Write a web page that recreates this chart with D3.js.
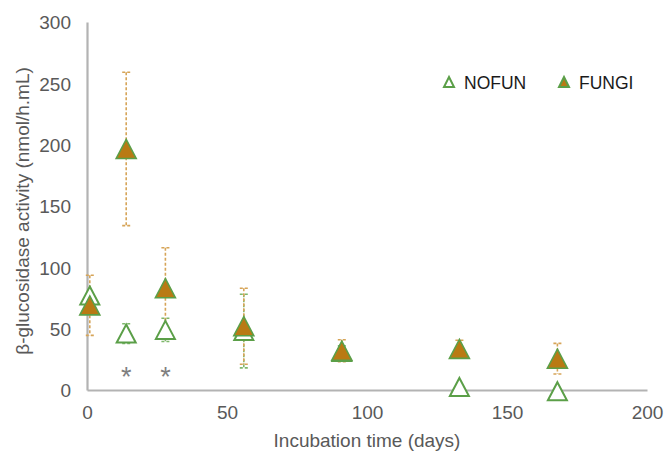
<!DOCTYPE html>
<html>
<head>
<meta charset="utf-8">
<script src="https://cdn.jsdelivr.net/npm/d3@7"></script>
<style>
  body { margin: 0; background: #fff; }
  svg text { font-family: "Liberation Sans", Arial, sans-serif; }
</style>
</head>
<body>
<svg class="chart"></svg>
<script>
// data
const days = [1, 14, 28, 56, 91, 133, 168];
const nofun = [77, 46, 49, 48, 31, 2.5, -1];
const nofunErr = [0, 8, 9.5, 30, 5, 0, 0];
const fungi = [69, 196.5, 83, 52, 32, 33.5, 25.5];
const fungiErr = [24.5, 62.5, 33, 31, 9, 7, 12.5];
const starDays = [14, 28];
const xTicks = [0, 50, 100, 150, 200];
const yTicks = [0, 50, 100, 150, 200, 250, 300];

const width = 667;
const height = 452;
const green = '#5b9f48';
const orange = '#b97a14';

const svg = d3.select('svg.chart')
  .attr('width', width)
  .attr('height', height);

const x = d3.scaleLinear().domain([0, 200]).range([87, 647]);
const y = d3.scaleLinear().domain([0, 300]).range([390, 22]);

//Axes
const xAxis = svg.append('g')
  .attr('transform', `translate(0,${y(0)})`)
  .call(d3.axisBottom(x).tickValues(xTicks).tickSize(0).tickPadding(16));
const yAxis = svg.append('g')
  .attr('transform', `translate(${x(0)},0)`)
  .call(d3.axisLeft(y).tickValues(yTicks).tickSize(0).tickPadding(16));

[xAxis, yAxis].forEach(a => {
  a.select('.domain').attr('stroke', '#b3b3b3').attr('stroke-width', 2.2);
  a.selectAll('text')
    .attr('fill', '#595959')
    .style('font-size', '19px')
    .style('font-family', '"Liberation Sans", Arial, sans-serif');
});
yAxis.selectAll('text').attr('dy', '0.36em');
xAxis.selectAll('text').attr('dy', '0.71em');

//Axis titles
svg.append('text')
  .attr('x', (x(0) + x(200)) / 2)
  .attr('y', 447)
  .attr('text-anchor', 'middle')
  .attr('fill', '#595959')
  .style('font-size', '19px')
  .text('Incubation time (days)');

svg.append('text')
  .attr('transform', `translate(29,${(y(0) + y(300)) / 2 + 5}) rotate(-90)`)
  .attr('text-anchor', 'middle')
  .attr('fill', '#595959')
  .style('font-size', '19px')
  .text('β-glucosidase activity (nmol/h.mL)');

//Triangle marker path centred on its box
function tri(w, h) {
  return `M0,${-h / 2}L${w / 2},${h / 2}L${-w / 2},${h / 2}Z`;
}

//Error bars
function errorBars(vals, errs, color) {
  const g = svg.append('g')
    .attr('stroke', color)
    .attr('stroke-width', 1.6)
    .attr('stroke-dasharray', '3,2')
    .attr('fill', 'none');
  days.forEach((d, i) => {
    if (!errs[i]) return;
    const cx = x(d);
    const top = y(vals[i] + errs[i]);
    const bot = y(vals[i] - errs[i]);
    g.append('line').attr('x1', cx).attr('x2', cx).attr('y1', top).attr('y2', bot);
    g.append('line').attr('x1', cx - 4).attr('x2', cx + 4).attr('y1', top).attr('y2', top);
    g.append('line').attr('x1', cx - 4).attr('x2', cx + 4).attr('y1', bot).attr('y2', bot);
  });
}

errorBars(nofun, nofunErr, '#7fb86c');
errorBars(fungi, fungiErr, '#d6a457');

//Markers
svg.append('g')
  .selectAll('path')
  .data(days)
  .enter()
  .append('path')
    .attr('d', tri(19, 18))
    .attr('transform', (d, i) => `translate(${x(d)},${y(nofun[i])})`)
    .attr('fill', '#fff')
    .attr('stroke', green)
    .attr('stroke-width', 2);

svg.append('g')
  .selectAll('path')
  .data(days)
  .enter()
  .append('path')
    .attr('d', tri(20, 19))
    .attr('transform', (d, i) => `translate(${x(d)},${y(fungi[i])})`)
    .attr('fill', orange)
    .attr('stroke', green)
    .attr('stroke-width', 1.6);

//Significance stars
svg.append('g')
  .selectAll('text')
  .data(starDays)
  .enter()
  .append('text')
    .attr('x', d => x(d))
    .attr('y', 386)
    .attr('text-anchor', 'middle')
    .attr('fill', '#7f7f7f')
    .style('font-size', '27px')
    .text('*');

//Legend
const legend = [
  { name: 'NOFUN', fill: '#fff', x: 449 },
  { name: 'FUNGI', fill: orange, x: 564 },
];
const lg = svg.append('g');
legend.forEach(l => {
  lg.append('path')
    .attr('d', tri(10, 10))
    .attr('transform', `translate(${l.x},82)`)
    .attr('fill', l.fill)
    .attr('stroke', green)
    .attr('stroke-width', 2);
  lg.append('text')
    .attr('x', l.x + 15)
    .attr('y', 88.5)
    .attr('fill', '#1a1a1a')
    .style('font-size', '17.5px')
    .text(l.name);
});
</script>
</body>
</html>
